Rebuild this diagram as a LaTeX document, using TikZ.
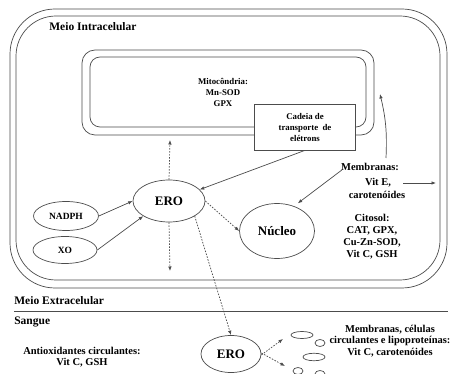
\documentclass[tikz,border=0pt]{standalone}
\usepackage{fontspec}
\setmainfont{Liberation Serif}
\usetikzlibrary{arrows.meta,shapes.geometric}
\begin{document}
\begin{tikzpicture}[x=1pt,y=-1pt,
  line width=0.7pt,
  ln/.style={draw=black!70},
  tip/.style={-{Latex[length=4.5pt,width=3.5pt]}},
  dotarrow/.style={ln,tip,dash pattern=on 1.6pt off 1.4pt},
  solidarrow/.style={ln,tip},
  oval/.style={ellipse,draw=black!70,fill=white,inner sep=0pt},
  head/.style={font=\bfseries\fontsize{11.5}{13}\selectfont,inner sep=0pt},
  txt/.style={font=\bfseries\fontsize{10.5}{12}\selectfont,align=center,inner sep=0pt},
  smalltxt/.style={font=\bfseries\fontsize{8.8}{11}\selectfont,align=center,inner sep=0pt},
  tiny/.style={ellipse,draw=black!70,inner sep=0pt}
]
\useasboundingbox (0,0) rectangle (450,374);
\fill[white] (0,0) rectangle (450,374);
% cell membrane
\draw[ln,rounded corners=45pt] (10,9) rectangle (447,288);
\draw[ln,rounded corners=40pt] (16,16) rectangle (440,280);
\node[head,anchor=west] (intra) at (49,27) {Meio Intracelular};
% mitochondria
\draw[ln,rounded corners=13pt] (82,50) rectangle (374,135);
\draw[ln,rounded corners=10pt] (90,57) rectangle (366,127);
\node[smalltxt] (mito) at (223,92) {Mitocôndria:\\Mn-SOD\\GPX};
\node[smalltxt,draw=black!70,fill=white,minimum width=101pt,minimum height=46pt] (cadeia) at (305,127)
  {Cadeia de\\transporte\ \ de\\elétrons};
% ERO and sources
\node[oval,minimum width=72pt,minimum height=42pt] (ero) at (169,201) {\bfseries\fontsize{13}{15}\selectfont ERO};
\node[oval,minimum width=65pt,minimum height=29pt] (nadph) at (66,216) {\bfseries\fontsize{9.5}{11}\selectfont NADPH};
\node[oval,minimum width=64pt,minimum height=27pt] (xo) at (65,250) {\bfseries\fontsize{9.5}{11}\selectfont XO};
\node[oval,minimum width=75pt,minimum height=55pt] (nucleo) at (277,231) {\bfseries\fontsize{13}{15}\selectfont Núcleo};
% membranes / cytosol text
\node[txt] (memb) at (370,167) {Membranas:};
\node[txt] (vite) at (378,183) {Vit E,};
\node[txt] (carot) at (377,195) {carotenóides};
\node[txt,font=\bfseries\fontsize{10.5}{12}\selectfont] (citosol) at (372,237) {Citosol:\\CAT, GPX,\\Cu-Zn-SOD,\\Vit C, GSH};
% free ends
\coordinate (upend) at (170,140);
\coordinate (downend) at (170,271);
\coordinate (mstart) at (386,158);
\coordinate (mend) at (380,94);
\coordinate (vstart) at (403,183);
\coordinate (vend) at (436,183);
% connectors intracellular
\draw[solidarrow] (cadeia.south) -- (ero);
\draw[solidarrow] (nadph.east) -- (ero.west);
\draw[solidarrow] (xo.east) -- (ero.south west);
\draw[dotarrow] (ero.north) -- (upend);
\draw[dotarrow] (ero.south) -- (downend);
\draw[dotarrow] (ero.east) -- (nucleo.west);
\draw[solidarrow] ([shift={(1,-1)}]memb.south west) -- ([shift={(-6,-8)}]nucleo.north east);
\draw[solidarrow] (mstart) to[bend right=8] (mend);
\draw[solidarrow] (vstart) -- (vend);
% extracellular
\node[head,anchor=west] (extra) at (14,301) {Meio Extracelular};
\coordinate (hl) at (14,311);
\coordinate (hr) at (448,311);
\draw[ln] (hl) -- (hr);
\node[head,anchor=west] (sangue) at (14,322) {Sangue};
\node[txt,font=\bfseries\fontsize{10.5}{11}\selectfont] (antiox) at (82,357) {Antioxidantes circulantes:\\Vit C, GSH};
\node[oval,minimum width=60pt,minimum height=37pt] (ero2) at (231,354) {\bfseries\fontsize{13}{15}\selectfont ERO};
\draw[dotarrow] (ero.south east) -- (ero2.north);
\coordinate (t1) at (283,339);
\coordinate (t2) at (285,366);
\draw[dotarrow] ([yshift=-1pt]ero2.east) -- (t1);
\draw[dotarrow] ([yshift=1pt]ero2.east) -- (t2);
% small cells
\node[tiny,minimum width=22pt,minimum height=7pt] (c1) at (302,335) {};
\node[tiny,minimum width=10pt,minimum height=7pt] (c2) at (320,343) {};
\node[tiny,minimum width=22pt,minimum height=7.5pt] (c3) at (314,357) {};
\node[tiny,minimum width=10pt,minimum height=7pt] (c4) at (298,371) {};
\node[tiny,minimum width=10pt,minimum height=7pt] (c5) at (320,374) {};
\node[txt,font=\bfseries\fontsize{10.5}{11.5}\selectfont] (membsang) at (390,341) {Membranas, células\\circulantes e lipoproteínas:\\Vit C, carotenóides};
\end{tikzpicture}
\end{document}
